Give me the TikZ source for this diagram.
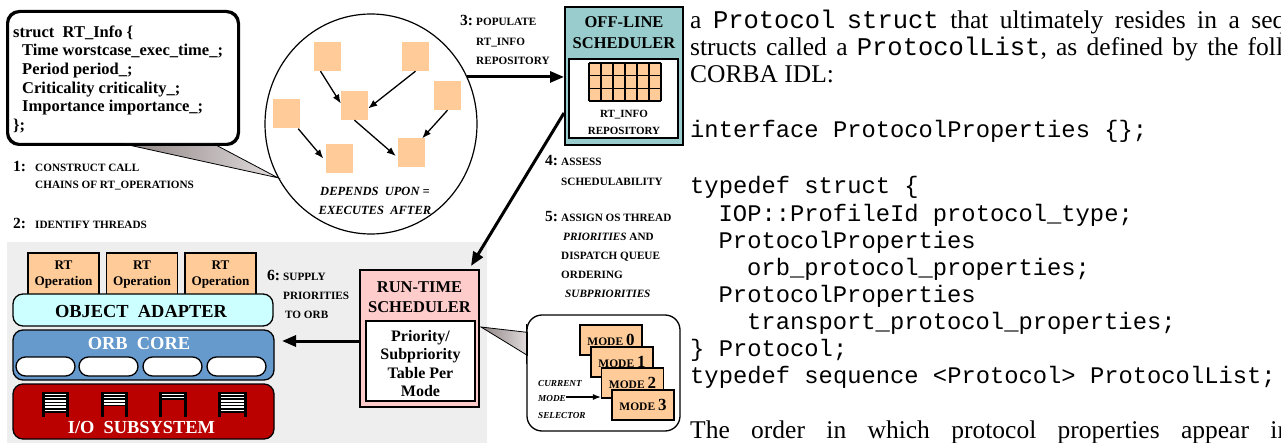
\documentclass[tikz,border=0pt]{standalone}
\usepackage{fontspec}
\setmainfont{Liberation Serif}
\setmonofont{Liberation Mono}
\usetikzlibrary{arrows.meta,shapes.geometric,calc}
\definecolor{peach}{HTML}{FFCC99}
\definecolor{teal}{HTML}{99CCCC}
\definecolor{pinkbg}{HTML}{FFCCCC}
\definecolor{oacyan}{HTML}{CCFFFF}
\definecolor{orbblue}{HTML}{6699CC}
\definecolor{iored}{HTML}{BB0000}
\definecolor{panel}{HTML}{EEEEEE}
\definecolor{taildark}{HTML}{8E8484}
\definecolor{taillight}{HTML}{E2DCDC}
\tikzset{
  lbl/.style={anchor=base west, inner sep=0pt, font=\bfseries\fontsize{11.2}{13}\selectfont},
  dgt/.style={anchor=base west, inner sep=0pt, font=\bfseries\fontsize{15.5}{16}\selectfont},
  codeln/.style={anchor=base west, inner sep=0pt, font=\bfseries\fontsize{16.5}{18}\selectfont},
  ttl/.style={anchor=base, inner sep=0pt, font=\bfseries\fontsize{16.5}{18}\selectfont},
  layer/.style={anchor=base, inner sep=0pt, font=\bfseries\fontsize{18.4}{20}\selectfont},
  sq/.style={fill=peach, minimum width=27, minimum height=29, inner sep=0pt},
  thinarr/.style={line width=1.3pt, -{Latex[length=9pt,width=7pt]}},
  bigarr/.style={line width=3pt, -{Triangle[length=14pt,width=11pt]}},
  opbox/.style={draw, line width=1.3pt, fill=peach, minimum width=71, minimum height=44, inner sep=0pt, align=center, font=\bfseries\fontsize{13.2}{16}\selectfont},
  pill/.style={draw, line width=1.3pt, fill=white, rounded corners=9.5, minimum width=59, minimum height=19, inner sep=0pt},
  modeb/.style={draw, line width=1.2pt, fill=peach, minimum width=62, minimum height=30, inner sep=0pt, font=\bfseries\fontsize{11.5}{13}\selectfont},
  sel/.style={anchor=base west, inner sep=0pt, font=\bfseries\itshape\fontsize{9.2}{11}\selectfont},
  rt/.style={anchor=base west, inner sep=0pt, font=\fontsize{25.5}{27}\selectfont},
  rtm/.style={anchor=base west, inner sep=0pt, font=\ttfamily\fontsize{23.8}{27}\selectfont},
}
\newcommand\bigdig[1]{{\fontsize{17}{18}\selectfont #1}}
\begin{document}
\begin{tikzpicture}[x=1pt,y=-1pt]
\useasboundingbox (0,0) rectangle (1281,443);
\fill[white] (0,0) rectangle (1281,443);
% bottom panel
\fill[panel] (7,242) rectangle (487,443);

% RT_Info callout
\node[draw, line width=2pt, rounded corners=12, fill=white, minimum width=230, minimum height=132, inner sep=0pt] (info) at (123,78) {};
\node[ellipse, draw, line width=1.2pt, minimum width=212, minimum height=220, inner sep=0pt] (circ) at (371,124) {};
\shadedraw[left color=taildark, right color=taillight, draw=black, line width=0.8pt]
  ($(info.south west)+(117,-1)$) -- (circ.210) -- ($(info.south west)+(207,-1)$) -- cycle;
\draw[line width=2pt, rounded corners=12] (info.south west) rectangle (info.north east);
\node[codeln] (c1) at (13,37.5) {struct~~RT\_Info \{};
\node[codeln] (c2) at (22,56) {Time worstcase\_exec\_time\_;};
\node[codeln] (c3) at (22,74.6) {Period period\_;};
\node[codeln] (c4) at (22,93.2) {Criticality criticality\_;};
\node[codeln] (c5) at (22,111.8) {Importance importance\_;};
\node[codeln] (c6) at (13,130.4) {\};};

% call chain squares
\node[sq] (A) at (327.5,56.5) {};
\node[sq] (B) at (415.5,56.5) {};
\node[sq] (C) at (354.5,105.5) {};
\node[sq] (D) at (447.5,95.5) {};
\node[sq] (E) at (286.5,114) {};
\node[sq] (F) at (339,158.5) {};
\node[sq] (G) at (411.5,153) {};
\draw[thinarr] ($(A.south)+(-7,0)$) -- ($(C.west)+(0,-2)$);
\draw[thinarr] (B.south) -- ($(C.east)+(0,3)$);
\draw[thinarr] (C.south) -- ($(G.west)+(-2,3)$);
\draw[thinarr] (D.south) -- ($(G.north east)+(-3,0)$);
\draw[thinarr] ($(E.south east)+(-2,0)$) -- ($(F.west)+(-2,0)$);
\node[anchor=base, inner sep=0pt, font=\bfseries\itshape\fontsize{12.5}{14}\selectfont] (dep1) at (375,196) {DEPENDS~~UPON~=};
\node[anchor=base, inner sep=0pt, font=\bfseries\itshape\fontsize{12.5}{14}\selectfont] (dep2) at (375,215) {EXECUTES~~AFTER};

% off-line scheduler
\node[draw, line width=2pt, fill=teal, minimum width=118, minimum height=138, inner sep=0pt] (off) at (624,76) {};
\node[ttl] (offt1) at (624,27.5) {OFF-LINE};
\node[ttl] (offt2) at (624,48.5) {SCHEDULER};
\node[draw, line width=1.5pt, fill=white, minimum width=109, minimum height=79, inner sep=0pt] (offin) at (623.5,98.5) {};
\fill[peach] (589,63) rectangle (661,101);
\foreach \gx in {589,601,...,661} {\draw[line width=1.2pt] (\gx,63) -- (\gx,101);}
\foreach \gy in {63,75.667,88.333,101} {\draw[line width=1.2pt] (589,\gy) -- (661,\gy);}
\node[anchor=base, inner sep=0pt, font=\bfseries\fontsize{11}{13}\selectfont] (rep1) at (624,118) {RT\_INFO};
\node[anchor=base, inner sep=0pt, font=\bfseries\fontsize{11}{13}\selectfont] (rep2) at (624,135) {REPOSITORY};

% arrow 3
\draw[bigarr] (circ.26) -- (off.west |- circ.26);

% labels
\node[dgt] (n1) at (13,172) {1:};
\node[lbl] (l1a) at (35,172) {CONSTRUCT CALL};
\node[lbl] (l1b) at (35,189) {CHAINS OF RT\_OPERATIONS};
\node[dgt] (n2) at (13,229) {2:};
\node[lbl] (l2a) at (35,229) {IDENTIFY THREADS};
\node[dgt] (n3) at (460,26) {3:};
\node[lbl] (l3a) at (476,26) {POPULATE};
\node[lbl] (l3b) at (476,46) {RT\_INFO};
\node[lbl] (l3c) at (476,65) {REPOSITORY};
\node[dgt] (n4) at (545,166) {4:};
\node[lbl] (l4a) at (561,166) {ASSESS};
\node[lbl] (l4b) at (561,186) {SCHEDULABILITY};
\node[dgt] (n5) at (545,222) {5:};
\node[lbl] (l5a) at (561,222) {ASSIGN OS THREAD};
\node[lbl] (l5b) at (563,241) {\textit{PRIORITIES} AND};
\node[lbl] (l5c) at (561,260) {DISPATCH QUEUE};
\node[lbl] (l5d) at (561,279) {ORDERING};
\node[lbl] (l5e) at (565,298) {\textit{SUBPRIORITIES}};
\node[dgt] (n6) at (267,281) {6:};
\node[lbl] (l6a) at (283,281) {SUPPLY};
\node[lbl] (l6b) at (283,300) {PRIORITIES};
\node[lbl] (l6c) at (285,319) {TO ORB};

% ORB stack
\node[opbox] (op1) at (63.5,275) {RT\\Operation};
\node[opbox] (op2) at (142,275) {RT\\Operation};
\node[opbox] (op3) at (220.5,275) {RT\\Operation};
\node[draw, line width=1.3pt, fill=oacyan, rounded corners=10, minimum width=260, minimum height=32, inner sep=0pt] (oa) at (143,310) {};
\node[layer] (oat) at (141,317.5) {OBJECT~~ADAPTER};
\node[draw, line width=1.3pt, fill=orbblue, rounded corners=10, minimum width=261, minimum height=50, inner sep=0pt] (orb) at (143.5,355) {};
\node[layer, text=white] (orbt) at (139,349) {ORB~~CORE};
\node[pill] (p1) at (45.5,366.5) {};
\node[pill] (p2) at (108.5,366.5) {};
\node[pill] (p3) at (172.5,366.5) {};
\node[pill] (p4) at (236.5,366.5) {};
\node[draw, line width=1.3pt, fill=iored, rounded corners=10, minimum width=261, minimum height=55, inner sep=0pt] (io) at (143.5,411.5) {};
\node[layer, text=white] (iot) at (141.5,433) {I/O~~SUBSYSTEM};
\foreach \xa/\xb/\n in {42/69/7, 101/128/5, 159/187/3, 218/247/7} {
  \pgfmathsetmacro{\ye}{392+(2*\n-1)*1.6}
  \fill[white] (\xa,392) rectangle (\xb,\ye);
  \foreach \i in {1,...,\n} {
    \pgfmathsetmacro{\yy}{392+(\i-1)*3.2}
    \fill[black] (\xa,\yy) rectangle (\xb,\yy+1.6);
  }
  \fill[black] (\xa,392) rectangle (\xa+2.6,417);
  \fill[black] (\xb-2.6,392) rectangle (\xb,417);
}

% run-time scheduler
\node[draw, line width=2pt, fill=pinkbg, minimum width=119, minimum height=137, inner sep=0pt] (rts) at (419.5,338.5) {};
\node[ttl] (rtst1) at (419.5,292.5) {RUN-TIME};
\node[ttl] (rtst2) at (419.5,312.5) {SCHEDULER};
\node[draw, line width=1.5pt, fill=white, minimum width=109, minimum height=80, inner sep=0pt] (rtsin) at (420.5,361) {};
\node[anchor=base, inner sep=0pt, font=\bfseries\fontsize{16}{18}\selectfont] (pt1) at (420.5,341) {Priority/};
\node[anchor=base, inner sep=0pt, font=\bfseries\fontsize{16}{18}\selectfont] (pt2) at (420.5,359.5) {Subpriority};
\node[anchor=base, inner sep=0pt, font=\bfseries\fontsize{16}{18}\selectfont] (pt3) at (420.5,378) {Table Per};
\node[anchor=base, inner sep=0pt, font=\bfseries\fontsize{16}{18}\selectfont] (pt4) at (420.5,396.5) {Mode};
\draw[bigarr] ($(off.south west)+(0,-33)$) -- ($(rts.north east)+(-9,-3)$);
\coordinate (a6end) at (282,341);
\draw[bigarr] (rts.west |- a6end) -- (a6end);

% mode callout
\node[draw, line width=1.3pt, fill=white, rounded corners=15, minimum width=153, minimum height=116, inner sep=0pt] (modebox) at (603.5,373) {};
\shadedraw[left color=taildark, right color=taillight, draw=black, line width=0.8pt]
  ($(rts.north east)+(1,58)$) -- ($(modebox.north west)+(1,18)$) -- ($(modebox.north west)+(1,41)$) -- cycle;
\draw[line width=1.3pt] ($(modebox.north west)+(0,10)$) -- ($(modebox.north west)+(0,50)$);
\node[modeb] (m0) at (611,340) {MODE \bigdig{0}};
\node[modeb] (m1) at (622,362) {MODE \bigdig{1}};
\node[modeb] (m2) at (632.5,383) {MODE \bigdig{2}};
\node[modeb] (m3) at (643,405) {MODE \bigdig{3}};
\node[sel] (s1) at (538,386) {CURRENT};
\node[sel] (s2) at (538,401) {MODE};
\node[sel] (s3) at (538,418) {SELECTOR};
\coordinate (selstart) at (566,397);
\draw[line width=1.2pt, -{Latex[length=8pt,width=6pt]}] (selstart) -- (m2.west |- selstart);

% paper text
\begin{scope}
\clip (686,0) rectangle (1281,443);
\node[rt] (t1) at (690,28.5) {\spaceskip=11.5pt\relax a \texttt{Protocol} \texttt{struct} that ultimately resides in a sequence of};
\node[rt] (t2) at (690,55.7) {\spaceskip=9.3pt\relax structs called a \texttt{ProtocolList}, as defined by the following};
\node[rt] (t3) at (690,82.9) {CORBA IDL:};
\node[rtm] (t4) at (690,138) {interface ProtocolProperties \{\};};
\node[rtm] (t5) at (690,194) {typedef struct \{};
\node[rtm] (t6) at (718.5,221.5) {IOP::ProfileId protocol\_type;};
\node[rtm] (t7) at (718.5,248.5) {ProtocolProperties};
\node[rtm] (t8) at (747,275.5) {orb\_protocol\_properties;};
\node[rtm] (t9) at (718.5,302.5) {ProtocolProperties};
\node[rtm] (t10) at (747,329.5) {transport\_protocol\_properties;};
\node[rtm] (t11) at (690,356.5) {\} Protocol;};
\node[rtm] (t12) at (690,383) {typedef sequence <Protocol> ProtocolList;};
\node[rt] (t13) at (690,438) {\hbox to 600pt{The\hfill order\hfill in\hfill which\hfill protocol\hfill properties\hfill appear\hfill in}};
\end{scope}
\end{tikzpicture}
\end{document}
